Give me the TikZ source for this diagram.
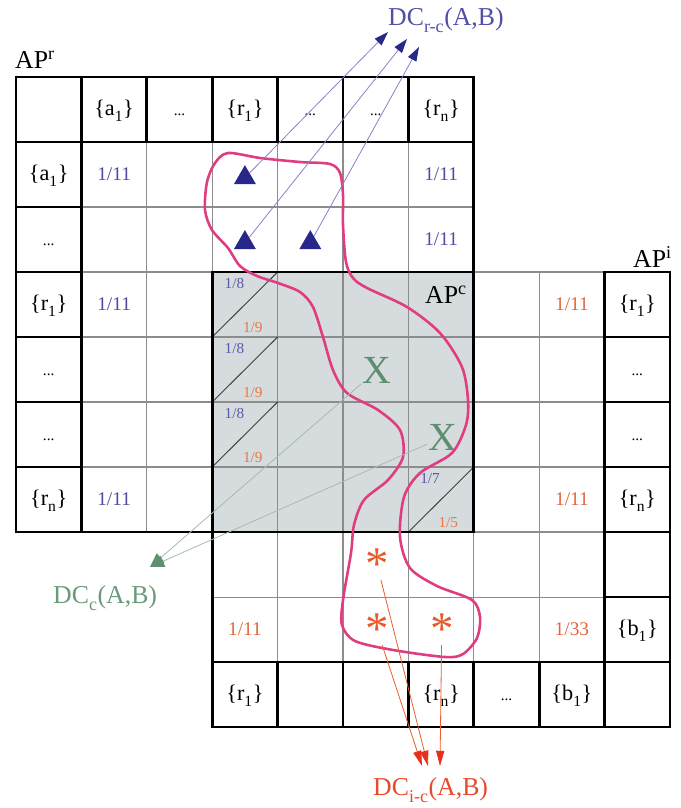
\documentclass[tikz,border=0pt]{standalone}
\usepackage{fontspec}
\setmainfont{Liberation Serif}
\usepackage{xcolor}
\usetikzlibrary{arrows.meta,shapes.geometric}

\definecolor{apcgrey}{HTML}{D6DBDE}
\definecolor{rblue}{HTML}{4B4BA0}
\definecolor{fblue}{HTML}{5A5AAA}
\definecolor{tricol}{HTML}{28288A}
\definecolor{dcblue}{HTML}{5050AA}
\definecolor{rcline}{HTML}{9080C8}
\definecolor{iorange}{HTML}{E2643A}
\definecolor{forange}{HTML}{E87A45}
\definecolor{astred}{HTML}{E85A2A}
\definecolor{icline}{HTML}{E8602E}
\definecolor{icred}{HTML}{E8301E}
\definecolor{dcred}{HTML}{E84A2C}
\definecolor{xgreen}{HTML}{5E8F6E}
\definecolor{dcgreen}{HTML}{6A9A78}
\definecolor{cline}{HTML}{A8BCAE}
\definecolor{loopc}{HTML}{E03C80}

\newcommand{\fs}[1]{\fontsize{#1}{#1}\selectfont}
\newcommand{\lsub}[1]{\raisebox{-0.3ex}{\textsubscript{#1}}}
\newcommand{\setof}[2]{\{#1\lsub{#2}\}}
\newcommand{\etcdots}{{\fs{13}...}}

\begin{document}
\begin{tikzpicture}[x=0.03cm, y=-0.03cm,
  gridline/.style={draw=black!45, line width=0.9pt},
  frame/.style={draw=black, line width=2.4pt},
  diag/.style={draw=black!75, line width=0.8pt},
  hdr/.style={font=\fs{19}, text height=13pt, text depth=3.5pt, inner sep=0pt},
  val/.style={font=\fs{16.5}, inner sep=0pt},
  frac/.style={font=\fs{13}, inner sep=0pt},
  tri/.style={regular polygon, regular polygon sides=3, fill=tricol, inner sep=0pt, minimum size=0.76cm},
  xmark/.style={text=xgreen, font=\fs{34}, inner sep=1pt},
  astmark/.style={text=astred, font=\fs{40}, inner sep=0pt, yshift=-5.5pt},
  aplabel/.style={font=\fs{22}, inner sep=0pt},
  dclabel/.style={font=\fs{22}, inner sep=0pt},
  rcarr/.style={draw=rcline, line width=0.7pt, -{Triangle[length=12pt,width=8pt,color=tricol]}},
  carr/.style={draw=cline, line width=0.7pt, -{Triangle[length=12pt,width=10pt,color=xgreen]}},
  icarr/.style={draw=icline, line width=0.7pt, -{Triangle[length=13pt,width=7pt,color=icred]}},
  loopline/.style={draw=loopc, line width=2.2pt}]

\useasboundingbox (0,0) rectangle (681,808);

% grid, one unit = one cell
\begin{scope}[shift={(16,77)}, x=1.962cm, y=-1.95cm]
\fill[apcgrey] (3,3) rectangle (7,7);

% AP^r inner lines
\foreach \i in {2,...,6} \draw[gridline] (\i,1) -- (\i,7);
\foreach \j in {2,...,6} \draw[gridline] (1,\j) -- (7,\j);
% AP^i inner lines
\foreach \i in {4,...,8} \draw[gridline] (\i,3) -- (\i,9);
\foreach \j in {4,...,8} \draw[gridline] (3,\j) -- (9,\j);
\draw[gridline] (7,3) -- (9,3);

\draw[diag] (3,4) -- (4,3);
\draw[diag] (3,5) -- (4,4);
\draw[diag] (3,6) -- (4,5);
\draw[diag] (6,7) -- (7,6);

% thick frames
\foreach \i in {0,...,6} \draw[frame] (\i,0) rectangle ++(1,1);
\foreach \j in {1,...,6} \draw[frame] (0,\j) rectangle ++(1,1);
\draw[frame] (0,0) rectangle (7,7);
\draw[frame] (3,3) rectangle (7,7);
\foreach \j in {3,...,9} \draw[frame] (9,\j) rectangle ++(1,1);
\foreach \i in {3,...,8} \draw[frame] (\i,9) rectangle ++(1,1);
\draw[frame] (3,7) -- (3,10);

% AP^r headers
\node (rc1) [hdr] at (1.5,0.5) {\setof{a}{1}};
\node (rc2) [hdr] at (2.5,0.5) {\etcdots};
\node (rc3) [hdr] at (3.5,0.5) {\setof{r}{1}};
\node (rc4) [hdr] at (4.5,0.5) {\etcdots};
\node (rc5) [hdr] at (5.5,0.5) {\etcdots};
\node (rc6) [hdr] at (6.5,0.5) {\setof{r}{n}};
\node (rr1) [hdr] at (0.5,1.5) {\setof{a}{1}};
\node (rr2) [hdr] at (0.5,2.5) {\etcdots};
\node (rr3) [hdr] at (0.5,3.5) {\setof{r}{1}};
\node (rr4) [hdr] at (0.5,4.5) {\etcdots};
\node (rr5) [hdr] at (0.5,5.5) {\etcdots};
\node (rr6) [hdr] at (0.5,6.5) {\setof{r}{n}};

% AP^i headers
\node (ir1) [hdr] at (9.5,3.5) {\setof{r}{1}};
\node (ir2) [hdr] at (9.5,4.5) {\etcdots};
\node (ir3) [hdr] at (9.5,5.5) {\etcdots};
\node (ir4) [hdr] at (9.5,6.5) {\setof{r}{n}};
\node (ir6) [hdr] at (9.5,8.5) {\setof{b}{1}};
\node (ic1) [hdr] at (3.5,9.5) {\setof{r}{1}};
\node (ic4) [hdr] at (6.5,9.5) {\setof{r}{n}};
\node (ic5) [hdr] at (7.5,9.5) {\etcdots};
\node (ic6) [hdr] at (8.5,9.5) {\setof{b}{1}};

% values
\node (rv1) [val, text=rblue] at (1.5,1.5) {1/11};
\node (rv2) [val, text=rblue] at (6.5,1.5) {1/11};
\node (rv3) [val, text=rblue] at (6.5,2.5) {1/11};
\node (rv4) [val, text=rblue] at (1.5,3.5) {1/11};
\node (rv5) [val, text=rblue] at (1.5,6.5) {1/11};
\node (iv1) [val, text=iorange] at (8.5,3.5) {1/11};
\node (iv2) [val, text=iorange] at (8.5,6.5) {1/11};
\node (iv3) [val, text=iorange] at (3.5,8.5) {1/11};
\node (iv4) [val, text=iorange] at (8.5,8.5) {1/33};

\node (fa1) [frac, text=fblue] at (3.34,3.17) {1/8};
\node (fb1) [frac, text=forange] at (3.62,3.86) {1/9};
\node (fa2) [frac, text=fblue] at (3.34,4.17) {1/8};
\node (fb2) [frac, text=forange] at (3.62,4.86) {1/9};
\node (fa3) [frac, text=fblue] at (3.34,5.17) {1/8};
\node (fb3) [frac, text=forange] at (3.62,5.86) {1/9};
\node (fa4) [frac, text=fblue] at (6.33,6.17) {1/7};
\node (fb4) [frac, text=forange] at (6.61,6.86) {1/5};

% marks
\node (t1) [tri] at (3.5,1.55) {};
\node (t2) [tri] at (3.5,2.55) {};
\node (t3) [tri] at (4.5,2.55) {};
\node (x1) [xmark] at (5.52,4.51) {X};
\node (x2) [xmark] at (6.53,5.54) {X};
\node (s1) [astmark] at (5.52,7.4) {*};
\node (s2) [astmark] at (5.52,8.4) {*};
\node (s3) [astmark] at (6.51,8.4) {*};
\end{scope}

% labels
\node (apr) [aplabel, anchor=base west] at (15,68) {AP\textsuperscript{r}};
\node (api) [aplabel, anchor=base east] at (672,267) {AP\textsuperscript{i}};
\node (apc) [aplabel, anchor=base east] at (467,303) {AP\textsuperscript{c}};
\node (dcrc) [dclabel, text=dcblue, anchor=base west] at (388,25) {DC\lsub{r-c}(A,B)};
\node (dcc) [dclabel, text=dcgreen, anchor=base west] at (53,603) {DC\lsub{c}(A,B)};
\node (dcic) [dclabel, text=dcred, anchor=base west] at (373,795) {DC\lsub{i-c}(A,B)};

% selection
\draw[loopline] plot[smooth cycle] coordinates {(228,153) (260,158) (300,162) (330,164)
  (340,173) (343,195) (343,225) (346,262) (353,278) (367,288) (407,307) (440,333)
  (462,367) (468,400) (466,425) (452,453) (420,473) (404,497) (400,537) (410,568)
  (437,586) (472,600) (480,617) (477,638) (463,654) (445,657) (393,650) (355,641)
  (342,625) (343,600) (351,553) (354,525) (364,500) (388,480) (403,457) (400,430)
  (378,410) (347,393) (333,370) (323,337) (313,307) (300,292) (278,283) (257,276)
  (240,266) (228,248) (212,230) (205,210) (207,182) (215,163)};

\coordinate (rctip1) at (388,32);
\coordinate (rctip2) at (407,39);
\coordinate (rctip3) at (419,47);
\coordinate (ctip) at (150,567);
\coordinate (ictip1) at (422,766);
\coordinate (ictip2) at (428,766);
\coordinate (ictip3) at (440,766);

\draw[rcarr] (t1) -- (rctip1);
\draw[rcarr] (t2) -- (rctip2);
\draw[rcarr] (t3) -- (rctip3);
\draw[carr] (x1) -- (ctip);
\draw[carr] (x2) -- (ctip);
\draw[icarr] (s1) -- (ictip2);
\draw[icarr] (s2) -- (ictip1);
\draw[icarr] (s3) -- (ictip3);

\end{tikzpicture}
\end{document}
